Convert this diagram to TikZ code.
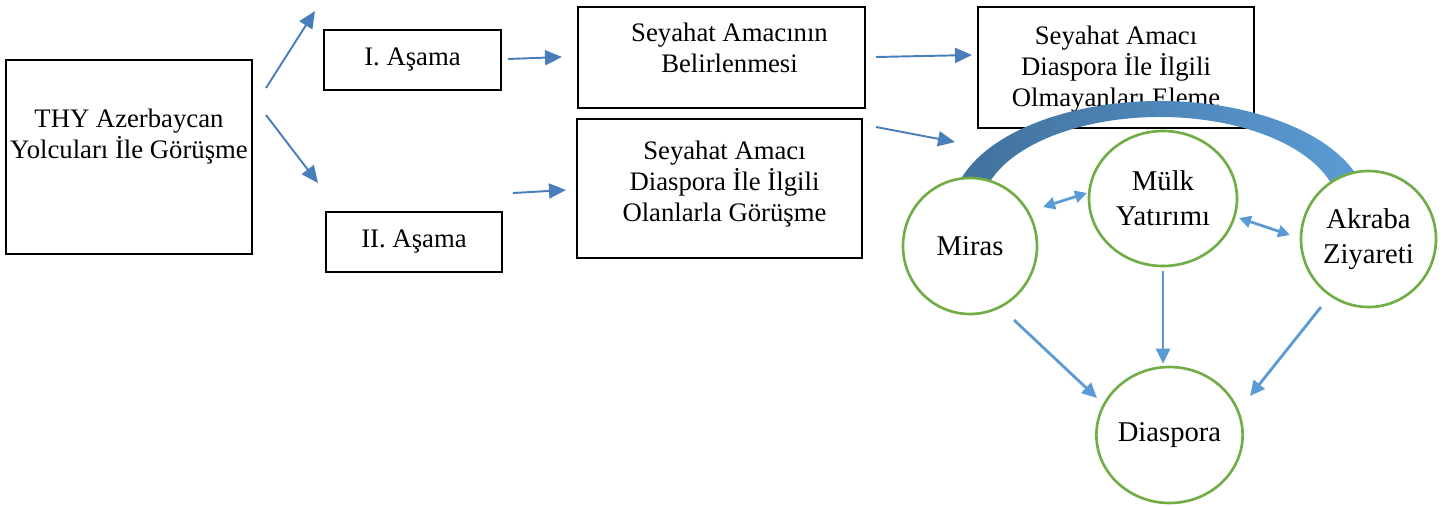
\documentclass[tikz,border=0pt]{standalone}
\usepackage{fontspec}
\setmainfont{Liberation Serif}
\usetikzlibrary{positioning,shapes.geometric,arrows.meta}
\definecolor{lineblue}{HTML}{4A7EBB}
\definecolor{lightblue}{HTML}{5B9BD5}
\definecolor{darkblue}{HTML}{41719C}
\definecolor{circgreen}{HTML}{70AD47}

\begin{document}
\begin{tikzpicture}
		\tikzstyle{box}=[draw, line width=1.1pt, rectangle, inner sep=0pt, font=\fontsize{15.2}{17.6}\selectfont]
		\tikzstyle{boxtext}=[align=center, inner sep=0pt, font=\fontsize{15.2}{17.6}\selectfont]
		\tikzstyle{motive}=[draw=circgreen, line width=1.5pt, fill=white, ellipse, inner sep=0pt, align=center, font=\fontsize{16.3}{20}\selectfont]
		\tikzstyle{flow}=[-{Triangle[length=0.34cm,width=0.3cm]}, color=lineblue, line width=1.1pt]
		\tikzstyle{link}=[-{Triangle[length=0.3cm,width=0.28cm]}, color=lightblue, line width=1.6pt]
		\tikzstyle{twoway}=[{Triangle[length=0.24cm,width=0.24cm]}-{Triangle[length=0.24cm,width=0.24cm]}, color=lightblue, line width=1.6pt]
		\useasboundingbox (0,0) rectangle (28.86,-10.1);
		% interview and stages
		\node [box, minimum width=4.92cm, minimum height=3.88cm] at (2.58,-3.14) (thy) {};
		\node [boxtext, below=1.0cm of thy.north] (thy-t) {THY Azerbaycan\\Yolcuları İle Görüşme};
		\node [box, minimum width=3.54cm, minimum height=1.2cm] at (8.25,-1.2) (asama1) {I. Aşama};
		\node [box, minimum width=3.52cm, minimum height=1.2cm] at (8.28,-4.84) (asama2) {II. Aşama};
		% purpose boxes
		\node [box, minimum width=5.74cm, minimum height=2.02cm] at (14.43,-1.15) (goal) {};
		\node [boxtext, below=0.34cm of goal.north, xshift=0.16cm] (goal-t) {Seyahat Amacının\\Belirlenmesi};
		\node [box, minimum width=5.7cm, minimum height=2.78cm] at (14.39,-3.77) (related) {};
		\node [boxtext, below=0.46cm of related.north, xshift=0.1cm] (related-t) {Seyahat Amacı\\Diaspora İle İlgili\\Olanlarla Görüşme};
		\node [box, minimum width=5.52cm, minimum height=2.42cm] at (22.32,-1.35) (elim) {};
		\node [boxtext, below=0.4cm of elim.north] (elim-t) {Seyahat Amacı\\Diaspora İle İlgili\\Olmayanları Eleme};
		% band over the motives
		\coordinate (arcc) at (23.2,-4.22);
		\shade [left color=darkblue, right color=lightblue] ([shift={(15:4.16 and 2.2)}]arcc) arc[start angle=15, end angle=165, x radius=4.16, y radius=2.2] -- ([shift={(165:3.58 and 1.88)}]arcc) arc[start angle=165, end angle=15, x radius=3.58, y radius=1.88] -- cycle;
		% motives
		\node [motive, minimum width=2.68cm, minimum height=2.72cm] at (19.4,-4.92) (miras) {Miras};
		\node [motive, minimum width=2.96cm, minimum height=2.7cm] at (23.26,-3.97) (mulk) {Mülk\\Yatırımı};
		\node [motive, minimum width=2.7cm, minimum height=2.72cm] at (27.37,-4.78) (akraba) {Akraba\\Ziyareti};
		\node [motive, minimum width=2.9cm, minimum height=2.72cm] at (23.39,-8.7) (diaspora) {Diaspora};
		% arrow ends
		\coordinate (s1) at (5.32,-1.76); \coordinate (e1) at (6.30,-0.22);
		\coordinate (s2) at (5.32,-2.30); \coordinate (e2) at (6.36,-3.66);
		\coordinate (s3) at (10.16,-1.18); \coordinate (e3) at (11.24,-1.14);
		\coordinate (s4) at (10.26,-3.86); \coordinate (e4) at (11.32,-3.80);
		\coordinate (s5) at (17.52,-1.14); \coordinate (e5) at (19.44,-1.10);
		\coordinate (s6) at (17.52,-2.54); \coordinate (e6) at (19.10,-2.84);
		\coordinate (m1) at (20.86,-4.14); \coordinate (m2) at (21.74,-3.86);
		\coordinate (m3) at (24.78,-4.36); \coordinate (m4) at (25.80,-4.70);
		\coordinate (d3) at (20.28,-6.40); \coordinate (d4) at (21.94,-7.96);
		\coordinate (d5) at (26.42,-6.14); \coordinate (d6) at (25.00,-7.92);
		% flow
		\draw [flow] (s1) -- (e1);
		\draw [flow] (s2) -- (e2);
		\draw [flow] (s3) -- (e3);
		\draw [flow] (s4) -- (e4);
		\draw [flow] (s5) -- (e5);
		\draw [flow] (s6) -- (e6);
		\draw [twoway] (m1) -- (m2);
		\draw [twoway] (m3) -- (m4);
		\draw [link, shorten <=0.08cm, shorten >=0.04cm] (mulk.south) -- (mulk.south |- diaspora.north);
		\draw [link] (d3) -- (d4);
		\draw [link] (d5) -- (d6);
	\end{tikzpicture}
\end{document}
